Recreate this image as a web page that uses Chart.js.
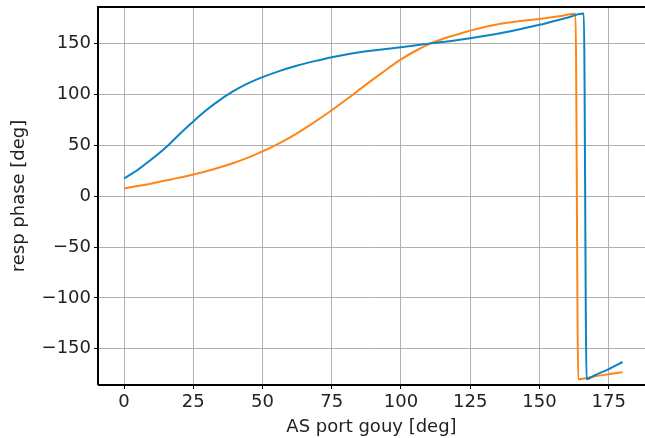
<!DOCTYPE html>
<html>
<head>
<meta charset="utf-8">
<script src="https://cdn.jsdelivr.net/npm/chart.js@4.4.1/dist/chart.umd.min.js"></script>
<style>
  html, body { margin: 0; padding: 0; background: white; overflow: hidden; }
</style>
</head>
<body>
<canvas id="myChart" width="645" height="438"></canvas>
<script>
// gouy phase (deg) and response phase (deg)
var blueX = [0, 5, 9, 16, 20, 25, 29, 33, 39, 44, 50, 56, 62, 70, 75, 85, 100, 110, 120, 130, 140, 150, 160, 166, 167, 170, 175, 180];
var blueY = [17.4, 26, 34.3, 50.2, 61, 73.5, 83, 91.5, 102.5, 110, 117, 123, 128, 133.5, 136.6, 141.5, 146.5, 150, 153.3, 157.5, 162.5, 168.5, 175.5, 179.5, -180, -176, -170, -163];

var orangeX = [0, 10, 17, 25, 32, 39, 45, 50, 56, 62, 68, 75, 81, 87, 93, 100, 105, 111, 116, 121, 126, 131, 136, 142, 150, 157, 163, 164, 170, 175, 180];
var orangeY = [7.6, 12.5, 16.5, 21.3, 26.3, 32.2, 38.2, 44, 52, 61, 71.5, 84.5, 96.5, 109, 121, 134.5, 142.5, 150.5, 155.5, 159.5, 163.5, 166.8, 169.5, 171.8, 174.3, 176.8, 179.3, -180, -177, -175, -173];

var xTicks = [0, 25, 50, 75, 100, 125, 150, 175];
var yTicks = [-150, -100, -50, 0, 50, 100, 150];

function toPoints(xs, ys) {
  var pts = [];
  for (let i = 0; i < xs.length; i++) {
    pts.push({x: xs[i], y: ys[i]});
  }
  return pts;
}

const FONT = 'DejaVu Sans';

// matplotlib-style spines: left, top, bottom
const spines = {
  id: 'spines',
  afterDraw(chart) {
    const a = chart.chartArea;
    const c = chart.ctx;
    c.save();
    c.strokeStyle = '#000';
    c.lineWidth = 2;
    c.beginPath();
    c.moveTo(a.left, a.bottom);
    c.lineTo(a.left, a.top);
    c.lineTo(a.right + 5, a.top);
    c.moveTo(a.left, a.bottom);
    c.lineTo(a.right + 5, a.bottom);
    c.stroke();
    c.restore();
  }
};

const ctx = document.getElementById('myChart');

var myChart = new Chart(ctx, {
  type: 'scatter',
  data: {
    datasets: [{
      data: toPoints(blueX, blueY),
      borderColor: '#0b84c4',
      borderWidth: 2,
      showLine: true,
      pointRadius: 0,
      cubicInterpolationMode: 'monotone'
    }, {
      data: toPoints(orangeX, orangeY),
      borderColor: '#ff8516',
      borderWidth: 2,
      showLine: true,
      pointRadius: 0,
      cubicInterpolationMode: 'monotone'
    }]
  },
  options: {
    responsive: false,
    animation: false,
    devicePixelRatio: 1,
    layout: { padding: { top: 7, right: 0, left: 0, bottom: 0 } },
    plugins: {
      legend: { display: false },
      tooltip: { enabled: false }
    },
    scales: {
      x: {
        type: 'linear',
        min: -9.4,
        max: 188.1,
        afterBuildTicks: function(scale) {
          scale.ticks = xTicks.map(v => ({value: v}));
        },
        afterFit: function(scale) {
          scale.height = 53;
          scale.paddingLeft = 0;
          scale.paddingRight = 0;
        },
        grid: { color: '#b0b0b0', lineWidth: 1, tickLength: 4, tickColor: '#000' },
        border: { display: false },
        ticks: { color: '#222', font: { family: FONT, size: 18 }, padding: 3, maxRotation: 0 },
        title: {
          display: true,
          text: 'AS port gouy [deg]',
          color: '#222',
          font: { family: FONT, size: 18 },
          padding: { top: 0, bottom: 0 }
        }
      },
      y: {
        type: 'linear',
        min: -185.6,
        max: 186,
        afterBuildTicks: function(scale) {
          scale.ticks = yTicks.map(v => ({value: v}));
        },
        afterFit: function(scale) {
          scale.width = 98;
          scale.paddingTop = 0;
          scale.paddingBottom = 0;
        },
        grid: { color: '#b0b0b0', lineWidth: 1, tickLength: 4, tickColor: '#000' },
        border: { display: false },
        ticks: {
          color: '#222',
          font: { family: FONT, size: 18 },
          padding: 3,
          callback: function(v) { return v < 0 ? '\u2212' + Math.abs(v) : String(v); }
        },
        title: {
          display: true,
          text: 'resp phase [deg]',
          color: '#222',
          font: { family: FONT, size: 18 },
          padding: { top: 9, bottom: 0 }
        }
      }
    }
  },
  plugins: [spines]
});
</script>
</body>
</html>
